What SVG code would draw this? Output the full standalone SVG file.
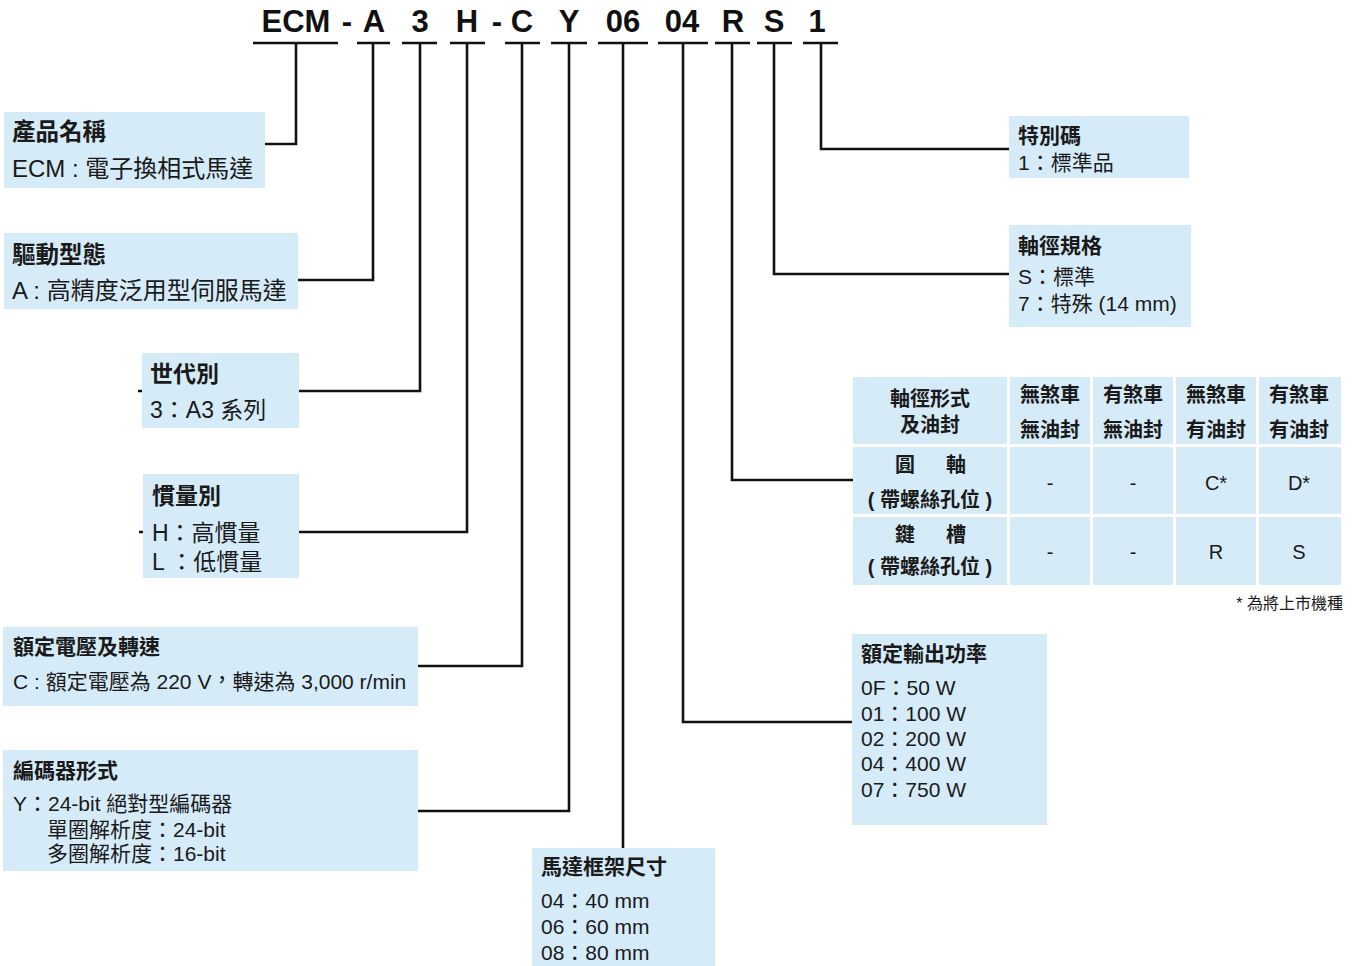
<svg xmlns="http://www.w3.org/2000/svg" width="1357" height="966" viewBox="0 0 1357 966">
<style>
text{font-family:"Liberation Sans","Noto Sans CJK TC",sans-serif;fill:#1a1a1a}
.code{font-size:31px;font-weight:bold;text-anchor:middle;fill:#111}
.box{fill:#D5EBF8}
.t{font-size:21px;font-weight:bold}
.b{font-size:21px}
.t24{font-size:23.5px;font-weight:bold}
.b24{font-size:24px}
.t23{font-size:23px;font-weight:bold}
.b23{font-size:23px}
.th{font-size:20px;font-weight:bold;text-anchor:middle}
.tv{font-size:20px;text-anchor:middle}
.ln{fill:none;stroke:#111;stroke-width:2.6}
</style>
<rect width="1357" height="966" fill="#fff"/>
<g id="code">
<text class="code" x="296" y="32">ECM</text>
<text class="code" x="347" y="32">-</text>
<text class="code" x="374" y="32">A</text>
<text class="code" x="420" y="32">3</text>
<text class="code" x="467" y="32">H</text>
<text class="code" x="497" y="32">-</text>
<text class="code" x="522" y="32">C</text>
<text class="code" x="569" y="32">Y</text>
<text class="code" x="623" y="32">06</text>
<text class="code" x="682" y="32">04</text>
<text class="code" x="733" y="32">R</text>
<text class="code" x="774" y="32">S</text>
<text class="code" x="817" y="32">1</text>
</g>
<g id="connectors" class="ln">
<path d="M253,43H338M357,43H390M402,43H437M450,43H485M505,43H540M551,43H587M598,43H648M658,43H708M715,43H750M757,43H792M803,43H838"/>
<path d="M296,43V144H262"/>
<path d="M373,43V280H296"/>
<path d="M420,43V391H138"/>
<path d="M467,43V532H139"/>
<path d="M522,43V666H415"/>
<path d="M569,43V811H415"/>
<path d="M623,43V850"/>
<path d="M683,43V722H855"/>
<path d="M732,43V480H855"/>
<path d="M774,43V274H1011"/>
<path d="M821,43V149H1011"/>
</g>
<g id="n-product">
<rect class="box" x="4" y="112" width="261" height="76"/>
<text class="t24" x="12" y="140">產品名稱</text>
<text class="b24" x="12" y="177">ECM : 電子換相式馬達</text>
</g>
<g id="n-drive">
<rect class="box" x="4" y="233" width="294" height="76"/>
<text class="t24" x="12" y="263">驅動型態</text>
<text class="b24" x="12" y="299">A : 高精度泛用型伺服馬達</text>
</g>
<g id="n-gen">
<rect class="box" x="142" y="353" width="157" height="75"/>
<text class="t23" x="150" y="382">世代別</text>
<text class="b23" x="150" y="418">3：A3 系列</text>
</g>
<g id="n-inertia">
<rect class="box" x="143" y="474" width="156" height="104"/>
<text class="t23" x="152" y="504">慣量別</text>
<text class="b23" x="152" y="541">H：高慣量</text>
<text class="b23" x="152" y="570">L ：低慣量</text>
</g>
<g id="n-voltage">
<rect class="box" x="3" y="627" width="415" height="79"/>
<text class="t" x="13" y="654">額定電壓及轉速</text>
<text class="b" x="13" y="689">C : 額定電壓為 220 V<tspan dy="-2">，</tspan><tspan dy="2">轉速為 3,000 r/min</tspan></text>
</g>
<g id="n-encoder">
<rect class="box" x="3" y="750" width="415" height="121"/>
<text class="t" x="13" y="778">編碼器形式</text>
<text class="b" x="13" y="811">Y：24-bit 絕對型編碼器</text>
<text class="b" x="47" y="837">單圈解析度：24-bit</text>
<text class="b" x="47" y="861">多圈解析度：16-bit</text>
</g>
<g id="n-frame">
<rect class="box" x="532" y="848" width="183" height="118"/>
<text class="t" x="541" y="874">馬達框架尺寸</text>
<text class="b" x="541" y="908">04：40 mm</text>
<text class="b" x="541" y="934">06：60 mm</text>
<text class="b" x="541" y="960">08：80 mm</text>
</g>
<g id="n-power">
<rect class="box" x="852" y="634" width="195" height="191"/>
<text class="t" x="861" y="661">額定輸出功率</text>
<text class="b" x="861" y="695">0F：50 W</text>
<text class="b" x="861" y="721">01：100 W</text>
<text class="b" x="861" y="746">02：200 W</text>
<text class="b" x="861" y="771">04：400 W</text>
<text class="b" x="861" y="797">07：750 W</text>
</g>
<g id="n-shaft-table">
<rect class="box" x="853" y="377" width="154" height="67"/>
<rect class="box" x="1010" y="377" width="80" height="67"/>
<rect class="box" x="1093" y="377" width="80" height="67"/>
<rect class="box" x="1176" y="377" width="80" height="67"/>
<rect class="box" x="1259" y="377" width="82" height="67"/>
<rect class="box" x="853" y="447" width="154" height="67"/>
<rect class="box" x="1010" y="447" width="80" height="67"/>
<rect class="box" x="1093" y="447" width="80" height="67"/>
<rect class="box" x="1176" y="447" width="80" height="67"/>
<rect class="box" x="1259" y="447" width="82" height="67"/>
<rect class="box" x="853" y="517" width="154" height="68"/>
<rect class="box" x="1010" y="517" width="80" height="68"/>
<rect class="box" x="1093" y="517" width="80" height="68"/>
<rect class="box" x="1176" y="517" width="80" height="68"/>
<rect class="box" x="1259" y="517" width="82" height="68"/>
<text class="th" x="930" y="406">軸徑形式</text>
<text class="th" x="930" y="432">及油封</text>
<text class="th" x="1050" y="402">無煞車</text>
<text class="th" x="1050" y="437">無油封</text>
<text class="th" x="1133" y="402">有煞車</text>
<text class="th" x="1133" y="437">無油封</text>
<text class="th" x="1216" y="402">無煞車</text>
<text class="th" x="1216" y="437">有油封</text>
<text class="th" x="1299" y="402">有煞車</text>
<text class="th" x="1299" y="437">有油封</text>
<text class="th" x="905" y="472">圓</text>
<text class="th" x="956" y="472">軸</text>
<text class="th" x="930" y="507">( 帶螺絲孔位 )</text>
<text class="tv" x="1050" y="490">-</text>
<text class="tv" x="1133" y="490">-</text>
<text class="tv" x="1216" y="490">C*</text>
<text class="tv" x="1299" y="490">D*</text>
<text class="th" x="905" y="542">鍵</text>
<text class="th" x="956" y="542">槽</text>
<text class="th" x="930" y="574">( 帶螺絲孔位 )</text>
<text class="tv" x="1050" y="559">-</text>
<text class="tv" x="1133" y="559">-</text>
<text class="tv" x="1216" y="559">R</text>
<text class="tv" x="1299" y="559">S</text>
<text x="1343" y="609" font-size="16" text-anchor="end">* 為將上市機種</text>
</g>
<g id="n-shaftdia">
<rect class="box" x="1009" y="225" width="182" height="102"/>
<text class="t" x="1018" y="253">軸徑規格</text>
<text class="b" x="1018" y="284">S：標準</text>
<text class="b" x="1018" y="311">7：特殊 (14 mm)</text>
</g>
<g id="n-special">
<rect class="box" x="1009" y="116" width="180" height="62"/>
<text class="t" x="1018" y="143">特別碼</text>
<text class="b" x="1018" y="170">1：標準品</text>
</g>
</svg>
